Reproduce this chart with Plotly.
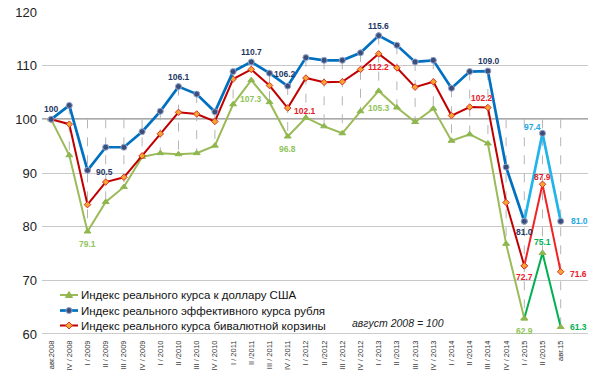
import plotly.graph_objects as go

categories = ["авг.2008", "IV / 2008", "I / 2009", "II / 2009", "III / 2009", "IV / 2009",
              "I / 2010", "II /2010", "III / 2010", "IV / 2010", "I / 2011", "II /2011",
              "III / 2011", "IV / 2011", "I / 2012", "II /2012", "III / 2012", "IV / 2012",
              "I / 2013", "II /2013", "III / 2013", "IV / 2013", "I / 2014", "II /2014",
              "III / 2014", "IV / 2014", "I / 2015", "II /2015", "авг.15"]

usd = [100, 93.3, 79.1, 84.6, 87.4, 93.0, 93.7, 93.5, 93.7, 95.1, 102.8, 107.3, 103.2, 96.8,
       100.3, 98.7, 97.4, 101.5, 105.3, 102.2, 99.5, 102.0, 96.0, 97.2, 95.5, 76.8, 62.9, 75.1, 61.3]
eff = [100, 102.6, 90.5, 94.8, 94.8, 97.7, 101.5, 106.1, 104.7, 101.4, 108.9, 110.7, 108.6, 106.2,
       111.5, 111.0, 111.0, 112.4, 115.6, 113.8, 110.7, 111.0, 105.8, 108.9, 109.0, 91.1, 81.0, 97.4, 81.0]
bask = [100, 99.1, 84.1, 88.3, 89.2, 93.2, 97.3, 101.3, 101.0, 99.6, 107.5, 109.3, 106.3, 102.1,
        107.7, 106.9, 107.0, 109.3, 112.2, 109.6, 106.0, 107.0, 100.7, 102.3, 102.2, 84.5, 72.7, 87.9, 71.6]

names = ["Индекс реального курса к доллару США",
         "Индекс реального эффективного курса рубля",
         "Индекс реального курса бивалютной корзины"]
base_value = 100
y_ticks = [60, 70, 80, 90, 100, 110, 120]
note_text = "август 2008 = 100"

# data labels: (series, index, xanchor, xshift, yshift, colour)
labels = [
    ("eff", 0, "center", 0, 10, "#1f3864"), ("eff", 2, "left", 6, -2, "#1f3864"),
    ("eff", 7, "center", 0, 10, "#1f3864"), ("eff", 11, "center", 0, 10, "#1f3864"),
    ("eff", 13, "center", -3, 12, "#1f3864"), ("eff", 18, "center", 0, 10, "#1f3864"),
    ("eff", 24, "center", 1, 10, "#1f3864"), ("eff", 26, "center", 0, -11, "#1f3864"),
    ("eff", 27, "center", -10, 6, "#1fa9e1"), ("eff", 28, "left", 8, 0, "#1fa9e1"),
    ("bask", 13, "left", 4, -3, "#e8202a"), ("bask", 18, "center", 0, -13, "#e8202a"),
    ("bask", 24, "center", -6, 10, "#e8202a"), ("bask", 26, "center", 0, -11, "#e8202a"),
    ("bask", 27, "center", 0, 7, "#e8202a"), ("bask", 28, "left", 7, -2, "#e8202a"),
    ("usd", 2, "center", 0, -12, "#8fc45a"), ("usd", 11, "center", 0, -19, "#8fc45a"),
    ("usd", 13, "center", 0, -12, "#8fc45a"), ("usd", 18, "center", 0, -17, "#8fc45a"),
    ("usd", 26, "center", 0, -13, "#8fc45a"), ("usd", 27, "center", 0, 11, "#00b050"),
    ("usd", 28, "left", 7, 0, "#00b050"),
]

series = {"usd": usd, "eff": eff, "bask": bask}
n = len(categories)
xs = list(range(n))
split = n - 3  # index where the last segments change colour

fig = go.Figure()

# high-low dashed lines (include the base 100 line)
hx, hy = [], []
for i in xs:
    hi = max(base_value, usd[i], eff[i], bask[i])
    lo = min(usd[i], eff[i], bask[i])
    hx += [i, i, None]
    hy += [hi, lo, None]
fig.add_trace(go.Scatter(x=hx, y=hy, mode="lines", line=dict(color="#b5b5b5", width=1, dash="dash"),
                         showlegend=False, hoverinfo="skip"))

FONT = "Liberation Sans Narrow, Arial Narrow, Liberation Sans, Arial"

styles = {
    "usd": dict(c1="#9bbb59", c2="#00b050", sym="triangle-up", size=6, fill="#8fb74f", line="#8fb74f", w=2),
    "bask": dict(c1="#c00000", c2="#f02424", sym="diamond", size=5, fill="#f7a531", line="#d8352a", w=2),
    "eff": dict(c1="#0070c0", c2="#1fb4ea", sym="circle", size=6, fill="#3c4d7a", line="#93a6cc", w=2.7),
}

for key in ["usd", "bask", "eff"]:
    vals = series[key]
    st = styles[key]
    for seg_x, col in ((xs[:split + 1], st["c1"]), (xs[split:], st["c2"])):
        fig.add_trace(go.Scatter(
            x=seg_x, y=[vals[i] for i in seg_x], mode="lines+markers", showlegend=False,
            line=dict(color=col, width=st["w"]),
            marker=dict(symbol=st["sym"], size=st["size"], color=st["fill"],
                        line=dict(color=st["line"], width=1)),
            hoverinfo="skip"))

for s, i, xa, dx, dy, col in labels:
    v = series[s][i]
    txt = "100" if v == base_value else f"{v:.1f}"
    fig.add_annotation(x=i, y=v, xref="x", yref="y", text=txt, showarrow=False,
                       xanchor=xa, yanchor="middle", xshift=dx, yshift=dy,
                       font=dict(family=FONT, size=8.5, color=col, weight="bold"))

# base line 100 and bottom axis line
fig.add_shape(type="line", xref="paper", yref="y", x0=0, x1=1, y0=base_value, y1=base_value,
              line=dict(color="#555555", width=1.5), layer="below")
fig.add_shape(type="line", xref="paper", yref="y", x0=0, x1=1, y0=60, y1=60,
              line=dict(color="#999999", width=1.2))

# manual legend (plot area: x 42..588 px, y 12..334 px)
PW, PH = 546.0, 322.0
def px(xp):
    return (xp - 42) / PW
def py(yp):
    return (334 - yp) / PH

leg_rows = [295, 310.5, 325.5]
leg_keys = ["usd", "eff", "bask"]
leg_paths = {
    "usd": "M-3.5,-2.5 L3.5,-2.5 L0,3.5 Z",
    "bask": "M0,3.5 L3.5,0 L0,-3.5 L-3.5,0 Z",
}
for k, (row, key) in enumerate(zip(leg_rows, leg_keys)):
    st = styles[key]
    fig.add_shape(type="line", xref="paper", yref="paper", x0=px(60), x1=px(78), y0=py(row), y1=py(row),
                  line=dict(color=st["c1"], width=st["w"]))
    if key == "eff":
        fig.add_shape(type="circle", xref="paper", yref="paper", xsizemode="pixel", ysizemode="pixel",
                      xanchor=px(69), yanchor=py(row), x0=-3, x1=3, y0=-3, y1=3,
                      fillcolor=st["fill"], line=dict(color=st["line"], width=1))
    else:
        fig.add_shape(type="path", xref="paper", yref="paper", xsizemode="pixel", ysizemode="pixel",
                      xanchor=px(69), yanchor=py(row), path=leg_paths[key],
                      fillcolor=st["fill"], line=dict(color=st["line"], width=1))
    fig.add_annotation(text=names[k], xref="paper", yref="paper", x=px(79), y=py(row),
                       xanchor="left", yanchor="middle", showarrow=False,
                       font=dict(family="Liberation Sans, Arial", size=11.5, color="#111111"))

fig.add_annotation(text="<i>" + note_text + "</i>", xref="paper", yref="paper", x=px(397.5), y=py(323),
                   xanchor="center", yanchor="middle", showarrow=False,
                   font=dict(family="Liberation Sans, Arial", size=10.5, color="#222222"))

fig.update_layout(
    width=600, height=384,
    margin=dict(l=42, r=12, t=12, b=50, autoexpand=False),
    paper_bgcolor="white", plot_bgcolor="white",
    font=dict(family="Liberation Sans, Arial", color="#222222"),
    showlegend=False,
    xaxis=dict(range=[-0.5, n + 0.5], tickmode="array", tickvals=xs, ticktext=categories,
               tickangle=-90, tickfont=dict(size=7.5, color="#333333"), showgrid=False,
               zeroline=False, showline=False, ticks="", automargin=False, ticklabelstandoff=4),
    yaxis=dict(range=[60, 120], tickvals=y_ticks, showgrid=True, gridcolor="#c8c8c8", gridwidth=1.2,
               zeroline=False, showline=False, ticks="", automargin=False, ticklabelstandoff=4,
               tickfont=dict(size=13, color="#222222")),
)

fig.write_html("out.html", config={"displayModeBar": False},
               post_script="document.body.style.margin='0';document.body.style.overflow='hidden';")
